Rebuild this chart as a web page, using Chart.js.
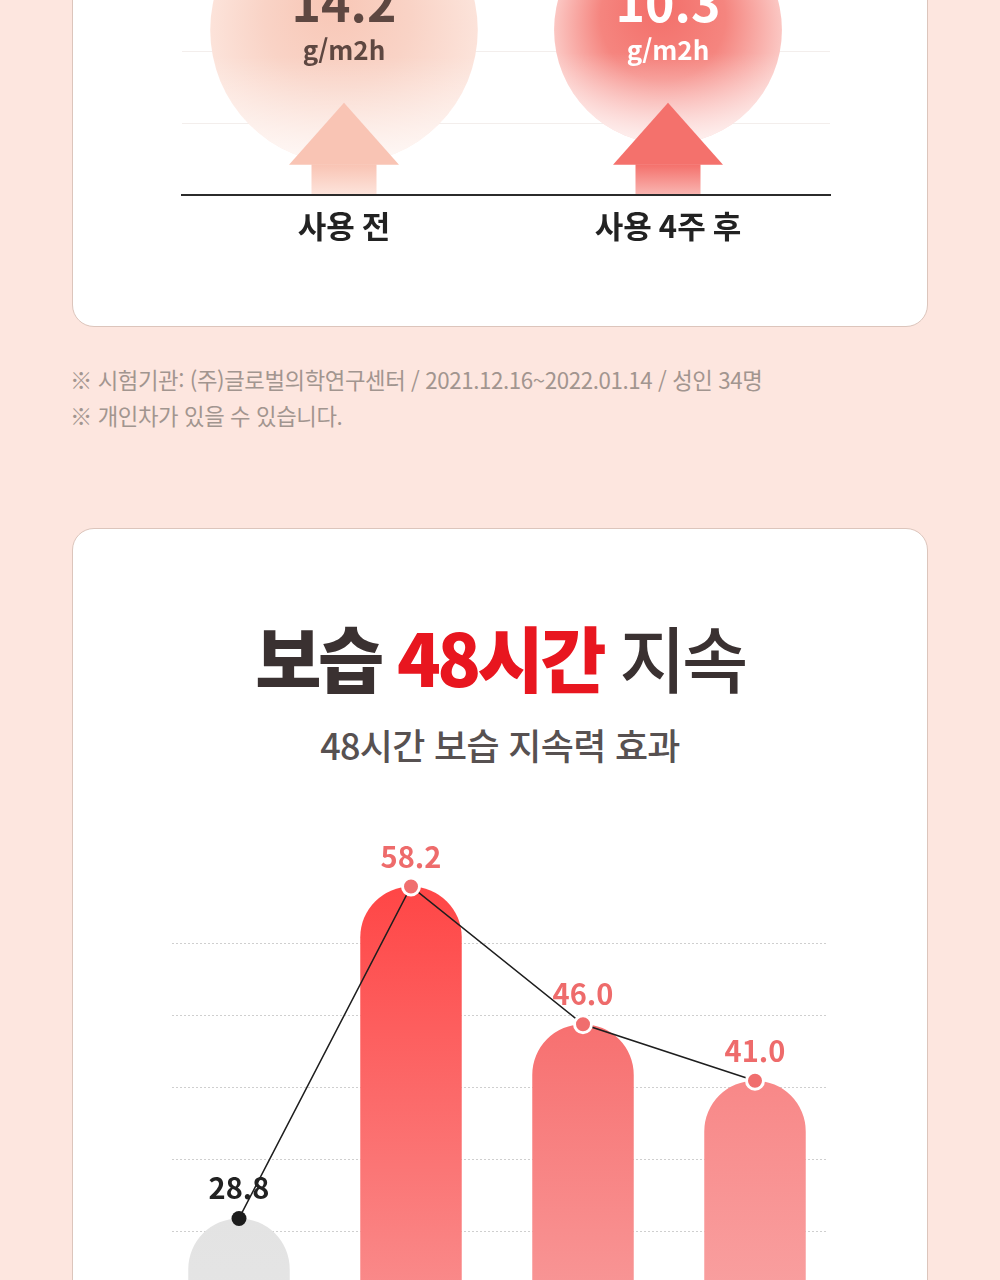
<!DOCTYPE html>
<html lang="ko">
<head>
<meta charset="utf-8">
<title>보습 48시간 지속</title>
<script src="https://cdn.jsdelivr.net/npm/chart.js@4.4.1/dist/chart.umd.min.js"></script>
<style>
  html, body {
    margin: 0;
    padding: 0;
    width: 1000px;
    height: 1280px;
    overflow: hidden;
    background: #fde6df;
    font-family: "Noto Sans CJK KR", "Noto Sans", sans-serif;
  }
  .card {
    position: absolute;
    left: 72px;
    width: 854px;
    background: #fff;
    border: 1px solid #dcc5bc;
    border-radius: 22px;
  }
  #card1 { top: -120px; height: 445px; }
  #card2 { top: 528px; height: 900px; }
  canvas { position: absolute; left: 0; }
  #topChart { top: 0; }
  #mainChart { top: 840px; }
  .notes {
    position: absolute;
    left: 70px;
    top: 361px;
    font-size: 22.3px;
    line-height: 36px;
    color: #a2958f;
    letter-spacing: -0.4px;
  }
  .title {
    position: absolute;
    left: 0;
    width: 1000px;
    top: 611px;
    text-align: center;
    font-size: 72px;
    line-height: 90px;
    letter-spacing: -3.6px;
    color: #3a3131;
  }
  .title .b { font-weight: 900; }
  .title .r { font-weight: 900; color: #e8161f; }
  .title .m { font-weight: 500; }
  .subtitle {
    position: absolute;
    left: 0;
    width: 1000px;
    top: 721px;
    text-align: center;
    font-size: 36px;
    line-height: 46px;
    font-weight: 500;
    letter-spacing: -0.7px;
    color: #575151;
  }
</style>
</head>
<body>
<div class="card" id="card1"></div>
<canvas id="topChart" width="1000" height="260"></canvas>

<div class="notes">
  <div>※ 시험기관: (주)글로벌의학연구센터 / 2021.12.16~2022.01.14 / 성인 34명</div>
  <div>※ 개인차가 있을 수 있습니다.</div>
</div>

<div class="card" id="card2"></div>
<div class="title"><span class="b">보습</span> <span class="r">48시간</span> <span class="m">지속</span></div>
<div class="subtitle">48시간 보습 지속력 효과</div>
<canvas id="mainChart" width="1000" height="560"></canvas>

<script>
// previous chart (only its lower part is in view)
const topCategories = ["사용 전", "사용 4주 후"];
const topValues = [14.2, 10.3];
const topUnit = "g/m2h";

// moisture chart
const categories = ["사용 전", "사용 직후", "24시간 후", "48시간 후"];
const values = [28.8, 58.2, 46.0, 41.0];
const gridValues = [27.7, 34.1, 40.4, 46.8, 53.2];

const FONT = '"Noto Sans CJK KR", "Noto Sans", sans-serif';

// ---- top chart: badges + arrows ----
const badgeStyles = [
  { inner: "#f8c6b5", mid: "#f9d3c6", outer: "#fce3da", text: "#5e4741", arrow: "#f9c4b4", arrowEnd: "#fde4dc" },
  { inner: "#f36d68", mid: "#f5857f", outer: "#fbc7c3", text: "#ffffff", arrow: "#f4716c", arrowEnd: "#f9b6b2" }
];

const badgePlugin = {
  id: "badges",
  beforeDatasetsDraw(chart) {
    const ctx = chart.ctx;
    const xs = chart.scales.x;
    const area = chart.chartArea;
    const base = area.bottom;
    topValues.forEach((v, i) => {
      const st = badgeStyles[i];
      const cx = xs.getPixelForValue(i);
      const r = 35.5 * Math.sqrt(v);
      const cy = area.top + 30;

      ctx.save();
      const rg = ctx.createRadialGradient(cx - r * 0.1, cy - r * 0.25, 0, cx, cy, r);
      rg.addColorStop(0, st.inner);
      rg.addColorStop(0.55, st.mid);
      rg.addColorStop(1, st.outer);
      ctx.fillStyle = rg;
      ctx.beginPath();
      ctx.arc(cx, cy, r, 0, Math.PI * 2);
      ctx.fill();
      // soft fade toward the bottom
      const lg = ctx.createLinearGradient(0, cy + r * 0.2, 0, cy + r);
      lg.addColorStop(0, "rgba(255,255,255,0)");
      lg.addColorStop(1, "rgba(255,255,255,0.75)");
      ctx.fillStyle = lg;
      ctx.fill();

      // arrow
      const tip = base - 92, neck = base - 30;
      ctx.fillStyle = st.arrow;
      ctx.beginPath();
      ctx.moveTo(cx, tip);
      ctx.lineTo(cx + 55, neck);
      ctx.lineTo(cx - 55, neck);
      ctx.closePath();
      ctx.fill();
      const sg = ctx.createLinearGradient(0, neck, 0, base);
      sg.addColorStop(0, st.arrow);
      sg.addColorStop(1, st.arrowEnd);
      ctx.fillStyle = sg;
      ctx.fillRect(cx - 32.5, neck - 0.5, 65, base - neck);

      // value text
      ctx.fillStyle = st.text;
      ctx.textAlign = "center";
      ctx.textBaseline = "alphabetic";
      ctx.font = "bold 50px " + FONT;
      ctx.fillText(v.toFixed(1), cx, cy - 8);
      ctx.font = "600 26px " + FONT;
      ctx.fillText(topUnit, cx, cy + 30);
      ctx.restore();
    });
  }
};

new Chart(document.getElementById("topChart"), {
  type: "bar",
  data: {
    labels: topCategories,
    datasets: [{ data: topValues, backgroundColor: "rgba(0,0,0,0)" }]
  },
  options: {
    responsive: false,
    animation: false,
    events: [],
    layout: { autoPadding: false, padding: { left: 182, right: 170, top: 0, bottom: 2 } },
    plugins: { legend: { display: false }, tooltip: { enabled: false } },
    scales: {
      x: {
        offset: true,
        grid: { display: false, drawTicks: false },
        border: { display: true, color: "#2b2b2b", width: 2, z: 1 },
        ticks: { color: "#222", padding: 13, font: { family: FONT, size: 31, weight: "bold" } }
      },
      y: {
        min: 0,
        max: 2.72,
        afterBuildTicks: (s) => { s.ticks = [{ value: 1 }, { value: 2 }]; },
        afterFit: (s) => { s.width = 0; },
        grid: { color: "#f3eeec", lineWidth: 1, drawTicks: false },
        border: { display: false },
        ticks: { display: false }
      }
    }
  },
  plugins: [badgePlugin]
});

// ---- main chart ----
const barStops = [
  ["#e3e3e3", "#ebebeb"],
  ["#ff4646", "#f98d8d"],
  ["#f77070", "#f9abab"],
  ["#f88888", "#f9b6b6"]
];
const labelColors = ["#222222", "#ee6b6b", "#ee6b6b", "#ee6b6b"];

function barFill(ctx) {
  const chart = ctx.chart;
  const area = chart.chartArea;
  if (!area) return barStops[ctx.dataIndex][0];
  const y0 = chart.scales.y.getPixelForValue(values[ctx.dataIndex]);
  const g = chart.ctx.createLinearGradient(0, y0, 0, y0 + 420);
  g.addColorStop(0, barStops[ctx.dataIndex][0]);
  g.addColorStop(1, barStops[ctx.dataIndex][1]);
  return g;
}

const dottedGrid = {
  id: "dottedGrid",
  beforeDatasetsDraw(chart) {
    const ctx = chart.ctx;
    const ys = chart.scales.y;
    const a = chart.chartArea;
    ctx.save();
    ctx.strokeStyle = "#cfcfcf";
    ctx.lineWidth = 1;
    ctx.setLineDash([2, 2]);
    ys.ticks.forEach(t => {
      const y = Math.round(ys.getPixelForValue(t.value)) + 0.5;
      ctx.beginPath();
      ctx.moveTo(a.left + 19, y);
      ctx.lineTo(a.right - 15, y);
      ctx.stroke();
    });
    ctx.restore();
  }
};

const valueLabels = {
  id: "valueLabels",
  afterDatasetsDraw(chart) {
    const ctx = chart.ctx;
    const meta = chart.getDatasetMeta(1);
    ctx.save();
    ctx.textAlign = "center";
    ctx.textBaseline = "middle";
    ctx.font = "bold 29px " + FONT;
    meta.data.forEach((pt, i) => {
      ctx.fillStyle = labelColors[i];
      ctx.fillText(values[i].toFixed(1), pt.x, pt.y - 30);
    });
    ctx.restore();
  }
};

new Chart(document.getElementById("mainChart"), {
  data: {
    labels: categories,
    datasets: [
      {
        type: "bar",
        data: values,
        order: 2,
        backgroundColor: barFill,
        borderRadius: { topLeft: 51, topRight: 51, bottomLeft: 0, bottomRight: 0 },
        borderSkipped: false,
        barPercentage: 0.59,
        categoryPercentage: 1
      },
      {
        type: "line",
        data: values,
        order: 1,
        borderColor: "#1e1e1e",
        borderWidth: 1.5,
        tension: 0,
        clip: false,
        pointRadius: [7.5, 8.5, 8.5, 8.5],
        pointBackgroundColor: ["#1c1c1c", "#f06e6e", "#f06e6e", "#f06e6e"],
        pointBorderColor: ["#1c1c1c", "#ffffff", "#ffffff", "#ffffff"],
        pointBorderWidth: [0, 3, 3, 3]
      }
    ]
  },
  options: {
    responsive: false,
    animation: false,
    events: [],
    layout: { autoPadding: false, padding: { left: 153, right: 159, top: 0, bottom: 0 } },
    plugins: { legend: { display: false }, tooltip: { enabled: false } },
    scales: {
      x: { display: false, offset: true },
      y: {
        min: 12.72,
        max: 62.32,
        afterBuildTicks: (s) => { s.ticks = gridValues.map(v => ({ value: v })); },
        afterFit: (s) => { s.width = 0; },
        grid: { display: false, drawTicks: false },
        border: { display: false },
        ticks: { display: false }
      }
    }
  },
  plugins: [dottedGrid, valueLabels]
});
</script>
</body>
</html>
